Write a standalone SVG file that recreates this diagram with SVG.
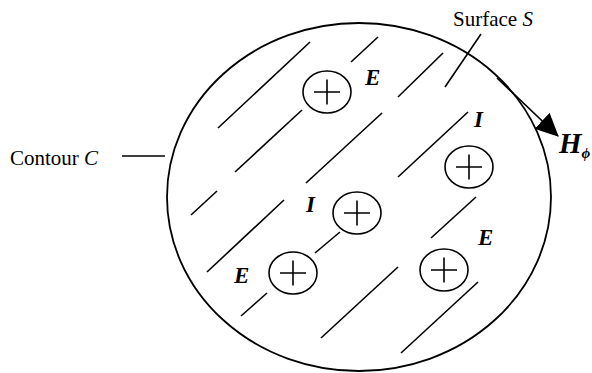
<svg xmlns="http://www.w3.org/2000/svg" width="592" height="373" viewBox="0 0 592 373">
<style>
.ln{stroke:#000;stroke-width:1.6;fill:none;stroke-linecap:butt}
.bd{stroke:#000;stroke-width:1.8;fill:none}
.chg{stroke:#000;stroke-width:1.6;fill:#fff}
.lbl{font-family:"Liberation Serif","Times New Roman",serif;font-size:21px;fill:#000}
.sym{font-family:"Liberation Serif","Times New Roman",serif;font-size:23px;font-weight:bold;font-style:italic;fill:#000}
.big{font-size:29px}
.sub{font-size:15px}
</style>
<defs>
<marker id="ah" markerWidth="24" markerHeight="22" refX="22" refY="11" orient="auto" markerUnits="userSpaceOnUse">
<path d="M0,0 L23,11 L0,22 Z" fill="#000"/>
</marker>
<g id="plus"><ellipse cx="0" cy="0" rx="24" ry="21" class="chg"/><path d="M-13,0 H13 M0,-12.5 V12.5" class="ln"/></g>
</defs>
<rect width="592" height="373" fill="#fff"/>
<g id="contour"><ellipse cx="359" cy="197" rx="192" ry="174" class="bd"/></g>
<g id="hatching">
<line x1="218" y1="128" x2="310" y2="42" class="ln"/>
<line x1="235" y1="172" x2="302" y2="110" class="ln"/>
<line x1="351" y1="62" x2="378" y2="37" class="ln"/>
<line x1="398" y1="97" x2="443" y2="53" class="ln"/>
<line x1="306" y1="183" x2="382" y2="113" class="ln"/>
<line x1="398" y1="177" x2="468" y2="112" class="ln"/>
<line x1="191" y1="215" x2="217" y2="191" class="ln"/>
<line x1="207" y1="272" x2="284" y2="200" class="ln"/>
<line x1="241" y1="316" x2="267" y2="293" class="ln"/>
<line x1="315" y1="253" x2="340" y2="232" class="ln"/>
<line x1="431" y1="238" x2="476" y2="197" class="ln"/>
<line x1="321" y1="338" x2="398" y2="267" class="ln"/>
<line x1="401" y1="353" x2="478" y2="282" class="ln"/>
</g>
<g id="charge1"><use href="#plus" x="327" y="92"/></g>
<g id="charge2"><use href="#plus" x="469" y="167"/></g>
<g id="charge3"><use href="#plus" x="357" y="213"/></g>
<g id="charge4"><use href="#plus" x="293" y="273"/></g>
<g id="charge5"><use href="#plus" x="444" y="270"/></g>
<g id="connectors">
<line x1="122" y1="156" x2="165" y2="156" class="ln"/>
<line x1="445" y1="87" x2="481" y2="34" class="ln"/>
<line x1="497" y1="78" x2="558" y2="136" class="ln" marker-end="url(#ah)"/>
</g>
<g id="labels">
<text x="10" y="165" class="lbl">Contour <tspan font-style="italic">C</tspan></text>
<text x="453" y="26" class="lbl">Surface <tspan font-style="italic">S</tspan></text>
<text x="365" y="85" class="sym">E</text>
<text x="474" y="127" class="sym">I</text>
<text x="306" y="212" class="sym">I</text>
<text x="234" y="283" class="sym">E</text>
<text x="478" y="245" class="sym">E</text>
<text x="559" y="153" class="sym big">H<tspan class="sub" dy="5">ϕ</tspan></text>
</g>
</svg>
